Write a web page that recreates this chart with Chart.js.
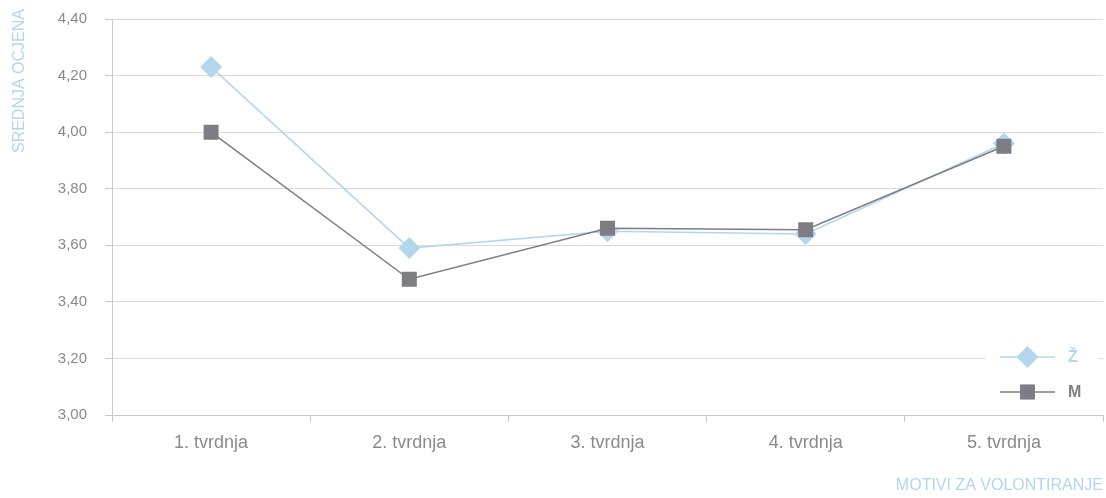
<!DOCTYPE html>
<html><head><meta charset="utf-8">
<script src="https://cdn.jsdelivr.net/npm/chart.js@4.4.1/dist/chart.umd.min.js"></script>
<style>
html,body{margin:0;padding:0;background:#fff}
#wrap{width:1106px;height:498px;position:relative}
</style>
</head><body>
<div id="wrap"><canvas id="c"></canvas></div>
<script>
// data
const categories = ['1. tvrdnja', '2. tvrdnja', '3. tvrdnja', '4. tvrdnja', '5. tvrdnja'];
const zValues = [4.23, 3.59, 3.65, 3.64, 3.96];
const mValues = [4.00, 3.48, 3.66, 3.655, 3.95];
const seriesNames = ['Ž', 'M'];
const yMin = 3.0, yMax = 4.4, yStep = 0.2;
const yTitle = 'SREDNJA OCJENA';
const xTitle = 'MOTIVI ZA VOLONTIRANJE';

const FONT = "'Liberation Sans', Arial, sans-serif";
const TEXT = '#8a8a8e';
const BLUE = '#b3d6ec';
const GREY = '#7e7d83';
const GRID = '#dadadc';
const AXIS = '#c9c9cd';

// titles + in-plot legend drawn by hand
const extras = {
  id: 'extras',
  afterDraw(chart){
    const ctx = chart.ctx, a = chart.chartArea;
    ctx.save();
    ctx.fillStyle = BLUE;
    ctx.font = '16px ' + FONT;
    // y title, rotated, sits at the top-left
    ctx.save();
    ctx.translate(20, 9);
    ctx.rotate(-Math.PI/2);
    ctx.textAlign = 'right'; ctx.textBaseline = 'middle';
    ctx.fillText(yTitle, 0, 0);
    ctx.restore();
    // x title, bottom right
    ctx.textAlign = 'right'; ctx.textBaseline = 'alphabetic';
    ctx.fillText(xTitle, a.right, 490);

    // legend box
    ctx.fillStyle = '#fff';
    ctx.fillRect(a.right - 118, a.bottom - 76, 114, 72);
    const rows = [
      {ds: chart.data.datasets[0], y: a.bottom - 58},
      {ds: chart.data.datasets[1], y: a.bottom - 23}
    ];
    rows.forEach(r=>{
      const x0 = a.right - 103, x1 = a.right - 48, cx = (x0 + x1)/2;
      ctx.strokeStyle = r.ds.borderColor; ctx.lineWidth = 1.5;
      ctx.beginPath(); ctx.moveTo(x0, r.y); ctx.lineTo(x1, r.y); ctx.stroke();
      Chart.helpers.drawPoint(ctx, {pointStyle: r.ds.pointStyle, radius: r.ds.pointRadius, borderWidth: 0}, cx, r.y);
      ctx.fillStyle = r.ds.pointBackgroundColor;
      ctx.fill();
      ctx.font = 'bold 16px ' + FONT;
      ctx.fillStyle = r.ds.label === 'Ž' ? BLUE : GREY;
      ctx.textAlign = 'left'; ctx.textBaseline = 'middle';
      ctx.fillText(r.ds.label, a.right - 35, r.y + 1);
    });
    ctx.restore();
  }
};

new Chart(document.getElementById('c'), {
  type: 'line',
  data: {
    labels: categories,
    datasets: [
      { label: seriesNames[0], data: zValues, order: 1,
        borderColor: BLUE, borderWidth: 1.5, pointStyle: 'rectRot', pointRadius: 11,
        pointBackgroundColor: BLUE, pointBorderColor: BLUE, pointBorderWidth: 0, tension: 0 },
      { label: seriesNames[1], data: mValues, order: 0,
        borderColor: GREY, borderWidth: 1.5, pointStyle: 'rect', pointRadius: 10.6,
        pointBackgroundColor: GREY, pointBorderColor: GREY, pointBorderWidth: 0, tension: 0 }
    ]
  },
  options: {
    responsive: true, maintainAspectRatio: false, animation: false,
    layout: { autoPadding: false, padding: { top: 19, right: 3, left: 0, bottom: 0 } },
    plugins: { legend: { display: false }, tooltip: { enabled: false } },
    scales: {
      x: {
        offset: true,
        grid: { offset: true, drawOnChartArea: true, tickLength: 7, tickColor: AXIS,
                color: c => c.index === categories.length ? AXIS : 'rgba(0,0,0,0)' },
        border: { color: AXIS, width: 1 },
        ticks: { color: TEXT, font: { family: FONT, size: 18 }, padding: 10, maxRotation: 0 },
        afterFit: s => { s.height = 83; }
      },
      y: {
        min: yMin, max: yMax,
        grid: { color: GRID, tickLength: 7, tickColor: AXIS },
        border: { color: AXIS, width: 1 },
        ticks: { stepSize: yStep, color: TEXT, font: { family: FONT, size: 15 }, padding: 18,
                 callback: v => v.toFixed(2).replace('.', ',') },
        afterFit: s => { s.width = 112; s.paddingTop = 0; s.paddingBottom = 0; }
      }
    }
  },
  plugins: [extras]
});
</script>
</body></html>
